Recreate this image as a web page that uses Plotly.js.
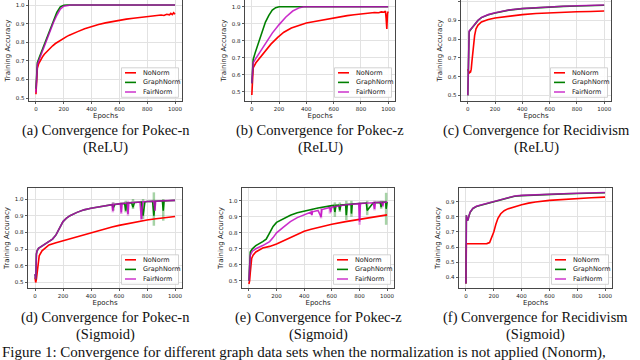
<!DOCTYPE html>
<html><head><meta charset="utf-8">
<script src="https://cdn.plot.ly/plotly-3.0.1.min.js"></script>
<style>html,body{margin:0;padding:0;background:#fff;} #chart{width:640px;height:360px;}</style>
</head><body><div id="chart"></div>
<script>
// ---------------- DATA ----------------
const seriesNames = ['NoNorm', 'GraphNorm', 'FairNorm'];
const xTicks = [0, 200, 400, 600, 800, 1000];
const captions = [
  ['(a) Convergence for Pokec-n', '(ReLU)'],
  ['(b) Convergence for Pokec-z', '(ReLU)'],
  ['(c) Convergence for Recidivism', '(ReLU)'],
  ['(d) Convergence for Pokec-n', '(Sigmoid)'],
  ['(e) Convergence for Pokec-z', '(Sigmoid)'],
  ['(f) Convergence for Recidivism', '(Sigmoid)']
];
const figureCaption = 'Figure 1: Convergence for different graph data sets when the normalization is not applied (Nonorm),';

// (a) Pokec-n, ReLU
const a_ep_no = [0,5,10,20,30,40,50,60,80,100,120,140,160,180,200,220,240,260,300,350,400,450,500,550,600,650,700,750,800,850,900,920,940,960,970,980,990,1000];
const a_no    = [0.52,0.63,0.66,0.685,0.70,0.712,0.725,0.735,0.752,0.768,0.781,0.793,0.803,0.813,0.822,0.83,0.838,0.845,0.857,0.872,0.885,0.895,0.904,0.912,0.918,0.924,0.929,0.934,0.938,0.942,0.946,0.944,0.95,0.947,0.955,0.949,0.958,0.95];
const a_ep_gn = [0,5,10,25,50,75,100,125,150,175,200,225,250,1000];
const a_gn    = [0.55,0.66,0.69,0.72,0.77,0.82,0.87,0.92,0.96,0.99,0.999,1.0,1.0,1.0];
const a_ep_fn = [0,5,10,25,50,75,100,125,150,175,200,225,250,275,1000];
const a_fn    = [0.53,0.64,0.68,0.71,0.76,0.805,0.855,0.905,0.945,0.978,0.994,0.999,1.0,1.0,1.0];

// (b) Pokec-z, ReLU
const b_ep_no = [0,5,10,30,60,100,140,190,235,290,340,400,450,500,550,600,650,700,750,800,850,900,930,950,970,980,985,990,995,1000];
const b_no    = [0.48,0.60,0.64,0.67,0.70,0.745,0.78,0.82,0.85,0.875,0.89,0.905,0.912,0.92,0.928,0.935,0.942,0.948,0.953,0.958,0.962,0.966,0.965,0.97,0.968,0.975,0.93,0.87,0.96,0.972];
const b_ep_gn = [0,5,10,25,50,75,100,125,150,175,200,225,1000];
const b_gn    = [0.55,0.67,0.69,0.73,0.79,0.855,0.91,0.95,0.98,0.995,1.0,1.0,1.0];
const b_ep_fn = [0,5,10,25,50,100,150,200,250,300,350,380,400,1000];
const b_fn    = [0.55,0.65,0.67,0.69,0.72,0.785,0.845,0.895,0.94,0.975,0.995,1.0,1.0,1.0];

// (c) Recidivism, ReLU
const c_ep_no = [0,5,10,20,25,30,40,50,60,75,100,150,200,300,400,500,600,700,800,900,1000];
const c_no    = [0.64,0.62,0.62,0.625,0.64,0.68,0.76,0.82,0.855,0.875,0.892,0.905,0.913,0.923,0.931,0.937,0.941,0.944,0.946,0.948,0.95];
const c_ep_gn = [0,5,10,20,30,50,75,100,150,200,250,300,400,500,600,700,800,900,1000];
const c_gn    = [0.50,0.70,0.84,0.85,0.86,0.88,0.90,0.915,0.93,0.94,0.948,0.955,0.963,0.968,0.972,0.975,0.977,0.979,0.981];
const c_ep_fn = [0,5,10,20,30,50,75,100,150,200,250,300,400,500,600,700,800,900,1000];
const c_fn    = [0.50,0.71,0.845,0.852,0.862,0.882,0.901,0.916,0.931,0.941,0.949,0.956,0.964,0.969,0.973,0.976,0.978,0.98,0.982];

// (d) Pokec-n, Sigmoid
const d_ep_no = [0,5,10,15,20,30,50,75,100,150,200,250,300,350,400,450,500,550,600,650,700,750,800,850,900,950,1000];
const d_no    = [0.53,0.50,0.52,0.56,0.62,0.66,0.69,0.71,0.725,0.738,0.75,0.762,0.775,0.788,0.80,0.811,0.822,0.832,0.842,0.851,0.86,0.867,0.874,0.88,0.886,0.891,0.895];
const d_ep_gn = [0,5,10,15,25,50,75,100,125,150,175,200,225,250,300,350,400,450,500,550,560,570,600,640,648,655,690,700,710,760,772,785,800,840,849,858,880,910,916,922,950,1000];
const d_gn    = [0.55,0.52,0.67,0.69,0.705,0.72,0.735,0.745,0.76,0.785,0.83,0.865,0.885,0.90,0.92,0.935,0.945,0.953,0.96,0.966,0.95,0.967,0.971,0.974,0.93,0.975,0.978,0.95,0.979,0.982,0.90,0.983,0.985,0.986,0.90,0.987,0.988,0.989,0.93,0.989,0.99,0.992];
const d_ep_fn = [0,5,10,15,25,50,75,100,125,150,175,200,225,250,300,350,400,450,500,550,556,562,600,610,616,622,658,664,670,700,750,760,770,800,850,856,862,900,950,1000];
const d_fn    = [0.55,0.52,0.67,0.69,0.705,0.72,0.735,0.745,0.76,0.785,0.83,0.865,0.885,0.90,0.92,0.935,0.945,0.953,0.96,0.966,0.93,0.967,0.971,0.972,0.92,0.973,0.976,0.91,0.977,0.979,0.982,0.88,0.983,0.985,0.987,0.93,0.987,0.989,0.99,0.992];
const d_gn_spk_ep = [560, 648, 700, 772, 849, 916];
const d_gn_spk_lo = [0.93, 0.92, 0.94, 0.88, 0.84, 0.87];
const d_gn_spk_hi = [0.98, 0.99, 1.0, 1.0, 1.04, 1.0];
const d_fn_spk_ep = [556, 616, 664, 760, 856];
const d_fn_spk_lo = [0.92, 0.91, 0.90, 0.87, 0.93];
const d_fn_spk_hi = [0.98, 0.98, 0.99, 0.99, 0.99];

// (e) Pokec-z, Sigmoid
const e_ep_no = [0,5,10,20,30,50,100,150,200,250,300,350,400,450,500,600,700,800,900,1000];
const e_no    = [0.48,0.50,0.55,0.64,0.66,0.68,0.705,0.715,0.73,0.75,0.77,0.79,0.81,0.822,0.833,0.853,0.87,0.885,0.898,0.912];
const e_ep_gn = [0,5,10,25,50,100,125,150,175,200,250,300,350,400,450,500,600,615,622,630,650,658,665,700,705,712,740,742,748,800,850,856,900,950,957,963,990,993,1000];
const e_gn    = [0.5,0.6,0.68,0.70,0.72,0.745,0.76,0.80,0.84,0.865,0.89,0.91,0.925,0.935,0.945,0.955,0.97,0.971,0.93,0.972,0.973,0.94,0.974,0.976,0.91,0.977,0.979,0.92,0.98,0.983,0.986,0.94,0.988,0.99,0.96,0.991,0.992,0.95,0.993];
const e_ep_fn = [0,5,10,25,50,100,125,150,175,200,250,300,350,400,450,455,460,500,522,528,550,586,592,600,700,795,801,807,900,909,915,960,969,975,1000];
const e_fn    = [0.5,0.58,0.66,0.685,0.70,0.72,0.73,0.745,0.77,0.80,0.835,0.87,0.895,0.915,0.93,0.91,0.931,0.94,0.90,0.945,0.95,0.958,0.93,0.96,0.975,0.982,0.87,0.983,0.988,0.95,0.989,0.99,0.97,0.991,0.992];
const e_gn_spk_ep = [622, 658, 705, 742, 856, 957, 993];
const e_gn_spk_lo = [0.90, 0.93, 0.88, 0.90, 0.91, 0.95, 0.85];
const e_gn_spk_hi = [0.99, 0.99, 1.0, 1.0, 1.0, 1.0, 1.05];
const e_fn_spk_ep = [455, 522, 586, 801, 909, 969];
const e_fn_spk_lo = [0.91, 0.89, 0.92, 0.85, 0.94, 0.96];
const e_fn_spk_hi = [0.95, 0.96, 0.97, 0.99, 1.0, 1.0];

// (f) Recidivism, Sigmoid
const f_ep_no = [0,3,10,50,100,150,170,185,200,215,230,250,275,300,350,400,450,500,600,700,800,900,1000];
const f_no    = [0.36,0.62,0.622,0.622,0.622,0.623,0.63,0.66,0.70,0.75,0.79,0.82,0.84,0.852,0.868,0.88,0.89,0.898,0.908,0.915,0.921,0.926,0.93];
const f_ep_gn = [0,3,6,10,15,20,30,50,75,100,150,200,250,300,350,400,500,600,700,800,900,1000];
const f_gn    = [0.36,0.81,0.79,0.775,0.78,0.80,0.83,0.855,0.868,0.875,0.888,0.90,0.915,0.928,0.936,0.94,0.945,0.948,0.951,0.954,0.957,0.959];
const f_ep_fn = [0,3,6,10,15,20,30,50,75,100,150,200,250,300,350,400,500,600,700,800,900,1000];
const f_fn    = [0.36,0.81,0.79,0.776,0.781,0.801,0.831,0.856,0.869,0.876,0.889,0.901,0.916,0.929,0.937,0.941,0.946,0.949,0.952,0.955,0.958,0.96];

// ---------------- STYLE / LAYOUT ----------------
const COLORS = ['#ff0000', '#008000', 'rgba(191,0,191,0.82)'];
const LEGEND_COLORS = ['#ff0000', '#008000', '#d040d0'];
const SPIKE_COLORS = [null, 'rgba(0,128,0,0.35)', 'rgba(191,0,191,0.35)'];

const panels = [
  {ep:[a_ep_no,a_ep_gn,a_ep_fn], y:[a_no,a_gn,a_fn], x0:29, x1:182, y0:0, y1:101, yr:[0.484,1.027]},
  {ep:[b_ep_no,b_ep_gn,b_ep_fn], y:[b_no,b_gn,b_fn], x0:245, x1:395, y0:0, y1:101, yr:[0.445,1.04]},
  {ep:[c_ep_no,c_ep_gn,c_ep_fn], y:[c_no,c_gn,c_fn], x0:461, x1:611, y0:0, y1:101, yr:[0.47,1.009]},
  {ep:[d_ep_no,d_ep_gn,d_ep_fn], y:[d_no,d_gn,d_fn], x0:28, x1:182, y0:188, y1:288, yr:[0.467,1.066],
   spk:[null,[d_gn_spk_ep,d_gn_spk_lo,d_gn_spk_hi],[d_fn_spk_ep,d_fn_spk_lo,d_fn_spk_hi]]},
  {ep:[e_ep_no,e_ep_gn,e_ep_fn], y:[e_no,e_gn,e_fn], x0:242, x1:394, y0:188, y1:288, yr:[0.455,1.08],
   spk:[null,[e_gn_spk_ep,e_gn_spk_lo,e_gn_spk_hi],[e_fn_spk_ep,e_fn_spk_lo,e_fn_spk_hi]]},
  {ep:[f_ep_no,f_ep_gn,f_ep_fn], y:[f_no,f_gn,f_fn], x0:459, x1:612, y0:188, y1:288, yr:[0.33,0.99]}
];

const W = 640, H = 360;
const px = v => v / W, py = v => (H - v) / H;
const traces = [];
const layout = {
  width: W, height: H,
  margin: {l:0, r:0, t:0, b:0},
  paper_bgcolor: '#ffffff', plot_bgcolor: '#ffffff',
  showlegend: false,
  font: {family: 'DejaVu Sans, sans-serif', color: '#222'},
  annotations: [], shapes: []
};

panels.forEach((p, i) => {
  const n = i === 0 ? '' : String(i + 1);
  const xa = 'x' + n, ya = 'y' + n;
  if (p.spk) {
    p.spk.forEach((s, k) => {
      if (!s) return;
      const xs = [], ys = [];
      s[0].forEach((e, j) => { xs.push(e, e, null); ys.push(s[1][j], s[2][j], null); });
      traces.push({x: xs, y: ys, xaxis: xa, yaxis: ya, mode: 'lines', showlegend: false,
        hoverinfo: 'skip', line: {color: SPIKE_COLORS[k], width: 2.5}});
    });
  }
  for (let k = 0; k < 3; k++) {
    traces.push({
      x: p.ep[k], y: p.y[k], xaxis: xa, yaxis: ya, name: seriesNames[k],
      mode: 'lines', line: {color: COLORS[k], width: 1.6}
    });
  }
  const gridc = '#e2e2e2';
  layout['xaxis' + n] = {
    domain: [px(p.x0), px(p.x1)], anchor: ya, range: [-50, 1050],
    tickvals: xTicks, ticktext: xTicks.map(String),
    ticks: 'outside', ticklen: 2.5, tickwidth: 0.8, tickcolor: '#333',
    showline: true, mirror: true, linecolor: '#333', linewidth: 0.9,
    showgrid: true, gridcolor: gridc, gridwidth: 1, zeroline: false,
    tickfont: {size: 5.5, family: 'DejaVu Sans', color: '#222'},
    title: {text: 'Epochs', font: {size: 7, family: 'DejaVu Sans', color: '#222'}, standoff: 1}
  };
  layout['yaxis' + n] = {
    domain: [py(p.y1), py(p.y0)], anchor: xa, range: p.yr,
    dtick: 0.1, tick0: 0, tickformat: '.1f',
    ticks: 'outside', ticklen: 2.5, tickwidth: 0.8, tickcolor: '#333',
    showline: true, mirror: true, linecolor: '#333', linewidth: 0.9,
    showgrid: true, gridcolor: gridc, gridwidth: 1, zeroline: false,
    tickfont: {size: 5.5, family: 'DejaVu Sans', color: '#222'},
    title: {text: 'Training Accuracy', font: {size: 7, family: 'DejaVu Sans', color: '#222'}, standoff: 4}
  };
  // compact legend box in the lower-right corner
  const bR = p.x1 - 3.5, bL = bR - 57, bB = p.y1 - 3.7, bT = bB - 29.5;
  layout.shapes.push({type: 'rect', xref: 'paper', yref: 'paper', layer: 'above',
    x0: px(bL), x1: px(bR), y0: py(bB), y1: py(bT),
    fillcolor: 'rgba(255,255,255,0.85)', line: {color: '#c8c8c8', width: 0.8}});
  seriesNames.forEach((name, k) => {
    const yy = bT + 5 + k * 9.6;
    layout.shapes.push({type: 'line', xref: 'paper', yref: 'paper', layer: 'above',
      x0: px(bL + 3.5), x1: px(bL + 14.5), y0: py(yy), y1: py(yy),
      line: {color: LEGEND_COLORS[k], width: 1.6}});
    layout.annotations.push({xref: 'paper', yref: 'paper', x: px(bL + 19), y: py(yy),
      xanchor: 'left', yanchor: 'middle', showarrow: false, text: name,
      font: {size: 6.5, family: 'DejaVu Sans', color: '#222'}});
  });
  const cx = px((p.x0 + p.x1) / 2);
  const capY1 = p.y1 + 29, capY2 = p.y1 + 46;
  layout.annotations.push({xref: 'paper', yref: 'paper', x: cx, y: py(capY1),
    xanchor: 'center', yanchor: 'middle', showarrow: false, text: captions[i][0],
    font: {family: 'Liberation Serif, Times New Roman, serif', size: 14.5, color: '#111'}});
  layout.annotations.push({xref: 'paper', yref: 'paper', x: cx, y: py(capY2),
    xanchor: 'center', yanchor: 'middle', showarrow: false, text: captions[i][1],
    font: {family: 'Liberation Serif, Times New Roman, serif', size: 14.5, color: '#111'}});
});

layout.annotations.push({xref: 'paper', yref: 'paper', x: 0, y: py(352),
  xanchor: 'left', yanchor: 'middle', showarrow: false, text: figureCaption,
  font: {family: 'Liberation Serif, Times New Roman, serif', size: 15, color: '#111'}});

Plotly.newPlot('chart', traces, layout, {staticPlot: true, displayModeBar: false});
</script></body></html>
